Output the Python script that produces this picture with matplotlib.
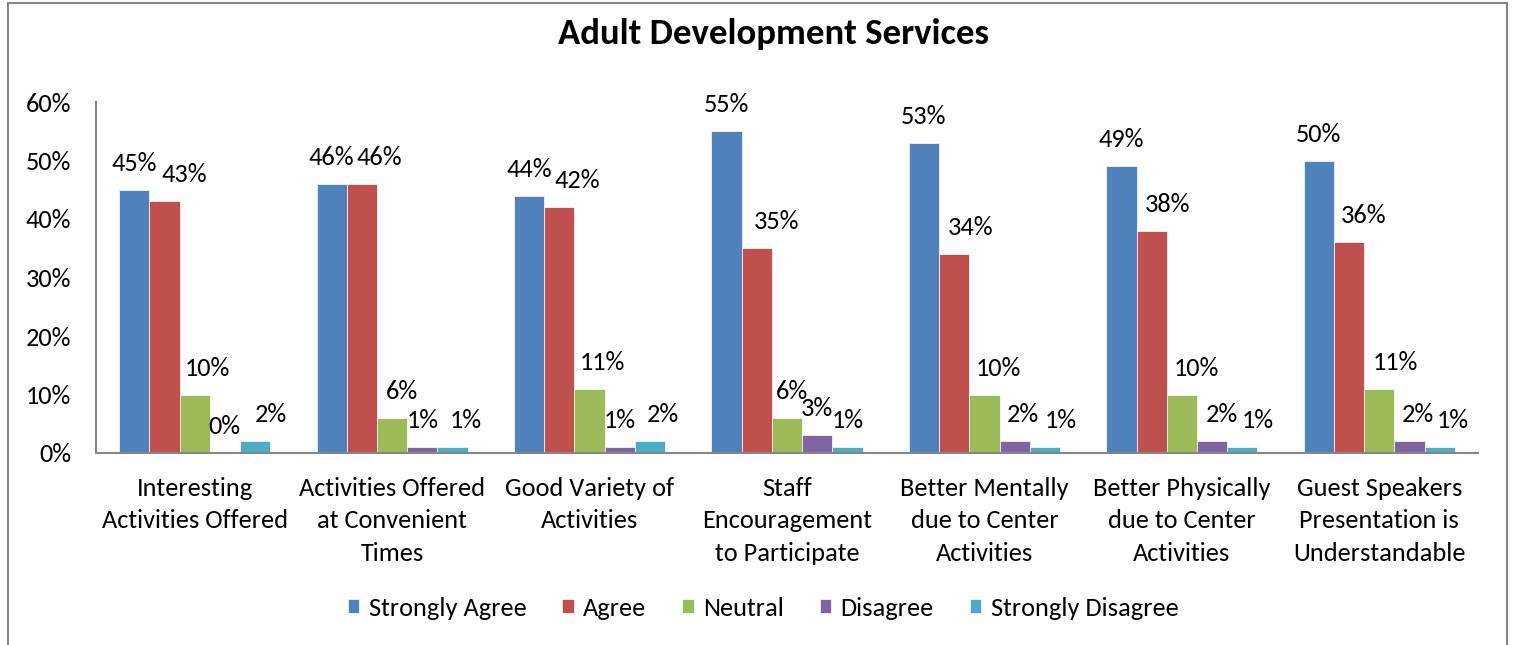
import matplotlib
matplotlib.use("Agg")
import matplotlib.pyplot as plt
import numpy as np
from matplotlib.patches import Rectangle

categories = [
    "Interesting\nActivities Offered",
    "Activities Offered\nat Convenient\nTimes",
    "Good Variety of\nActivities",
    "Staff\nEncouragement\nto Participate",
    "Better Mentally\ndue to Center\nActivities",
    "Better Physically\ndue to Center\nActivities",
    "Guest Speakers\nPresentation is\nUnderstandable",
]
series_names = ["Strongly Agree", "Agree", "Neutral", "Disagree", "Strongly Disagree"]
strongly_agree = [45, 46, 44, 55, 53, 49, 50]
agree = [43, 46, 42, 35, 34, 38, 36]
neutral = [10, 6, 11, 6, 10, 10, 11]
disagree = [0, 1, 1, 3, 2, 2, 2]
strongly_disagree = [2, 1, 2, 1, 1, 1, 1]
y_ticks = [0, 10, 20, 30, 40, 50, 60]

colors = ["#4F81BD", "#C0504D", "#9BBB59", "#8064A2", "#4BACC6"]
# horizontal nudges (pixels) of the value labels, one row per category
label_dx = [
    [0, 20, 13, 0, 16],
    [0, 17, 10, 0, 13],
    [0, 18, 13, 0, 13],
    [0, 20, 5, 0, 0],
    [0, 16, 14, 8, 16],
    [0, 16, 15, 10, 16],
    [0, 15, 16, 8, 13],
]

plt.rcParams["font.family"] = ["Carlito", "Lato", "DejaVu Sans"]
FS = 19

fig = plt.figure(figsize=(15.14, 6.45), dpi=100)
ax = fig.add_axes([96 / 1514, 1 - 453 / 645, (1478 - 96) / 1514, (453 - 102) / 645])

values = [strongly_agree, agree, neutral, disagree, strongly_disagree]
x = np.arange(len(categories))
width = 0.153
for i, (name, vals) in enumerate(zip(series_names, values)):
    pos = x + (i - 2) * width
    bars = ax.bar(pos, vals, width, color=colors[i], label=name,
                  edgecolor="white", linewidth=0.5)
    for j, (b, v) in enumerate(zip(bars, vals)):
        ax.annotate(f"{v}%", (b.get_x() + b.get_width() / 2, v),
                    xytext=(label_dx[j][i], 19), textcoords="offset pixels",
                    ha="center", va="baseline", fontsize=FS)

ax.set_xlim(-0.5, len(categories) - 0.5)
ax.set_ylim(0, 60)
ax.set_yticks(y_ticks)
ax.set_yticklabels([f"{t}%" for t in y_ticks], fontsize=FS)
ax.set_xticks(x)
ax.set_xticklabels(categories, fontsize=FS, linespacing=1.5)
ax.tick_params(axis="y", length=0, pad=18)
ax.tick_params(axis="x", length=0, pad=17)
for s in ["top", "right"]:
    ax.spines[s].set_visible(False)
for s in ["left", "bottom"]:
    ax.spines[s].set_color("#868686")
    ax.spines[s].set_linewidth(1.5)

fig.text(774 / 1514, 1 - 34 / 645, "Adult Development Services",
         ha="center", va="center", fontsize=26.5, fontweight="bold")

fig.legend(loc="center", bbox_to_anchor=(763 / 1514, 1 - 608 / 645), ncol=5,
           frameon=False, fontsize=FS, handlelength=0.45, handleheight=0.45,
           handletextpad=0.35, columnspacing=1.35)

# chart area border
fig.patches.append(Rectangle((8 / 1514, -0.05), (1507 - 8) / 1514, 1.05 - 3 / 645,
                             transform=fig.transFigure, fill=False,
                             edgecolor="#868686", linewidth=1.5))

fig.savefig("out.png", dpi=100)
